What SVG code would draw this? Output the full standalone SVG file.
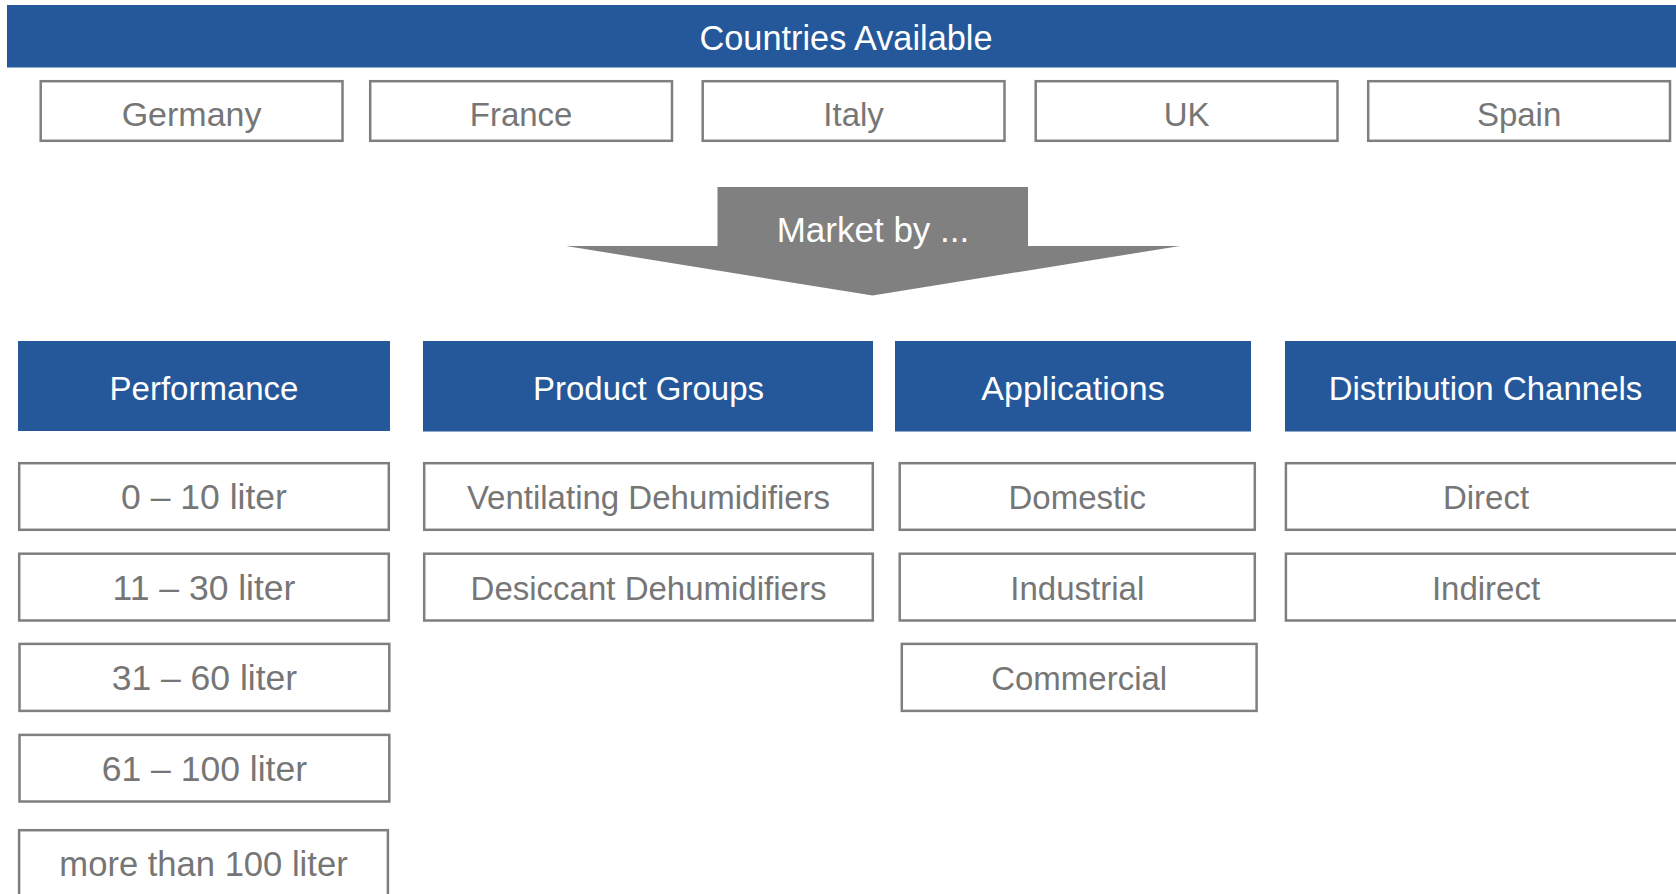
<svg xmlns="http://www.w3.org/2000/svg" width="1676" height="894" viewBox="0 0 1676 894">
<style>
  text { font-family: "Liberation Sans", Arial, sans-serif; font-size: 33px; text-anchor: middle; }
  .hdr { fill: #25589B; }
  .hdr-t { fill: #FFFFFF; }
  .box { fill: #FFFFFF; stroke: #7F7F7F; stroke-width: 2.5; }
  .box-t { fill: #767676; }
  .num { font-size: 35.5px; }
  .arrow { fill: #808080; }
</style>
<rect width="1676" height="894" fill="#FFFFFF"/>

<g id="countries-header">
  <rect class="hdr" x="7" y="5" width="1680" height="62.5"/>
  <text class="hdr-t" x="846" y="49.5" style="font-size:34.3px">Countries Available</text>
</g>

<g id="country-germany">
  <rect class="box" x="40.7" y="81.2" width="301.8" height="59.6"/>
  <text class="box-t" x="191.6" y="125.7" style="font-size:34px">Germany</text>
</g>
<g id="country-france">
  <rect class="box" x="370.2" y="81.2" width="301.8" height="59.6"/>
  <text class="box-t" x="521.1" y="125.7">France</text>
</g>
<g id="country-italy">
  <rect class="box" x="702.7" y="81.2" width="301.8" height="59.6"/>
  <text class="box-t" x="853.6" y="125.7">Italy</text>
</g>
<g id="country-uk">
  <rect class="box" x="1035.7" y="81.2" width="301.8" height="59.6"/>
  <text class="box-t" x="1186.6" y="125.7">UK</text>
</g>
<g id="country-spain">
  <rect class="box" x="1368.2" y="81.2" width="301.8" height="59.6"/>
  <text class="box-t" x="1519.1" y="125.7">Spain</text>
</g>

<g id="connectors">
  <path class="arrow" d="M717.5,187 L1028,187 L1028,246 L1180,246 L872.5,295.5 L566,246 L717.5,246 Z"/>
  <text class="hdr-t" x="873" y="241.7" style="font-size:35px">Market by ...</text>
</g>

<g id="hdr-performance">
  <rect class="hdr" x="18" y="341" width="372" height="90"/>
  <text class="hdr-t" x="204" y="400">Performance</text>
</g>
<g id="hdr-product-groups">
  <rect class="hdr" x="423" y="341" width="450" height="90.5"/>
  <text class="hdr-t" x="648.5" y="400">Product Groups</text>
</g>
<g id="hdr-applications">
  <rect class="hdr" x="895" y="341" width="356" height="90.5"/>
  <text class="hdr-t" x="1073" y="400" style="font-size:34px">Applications</text>
</g>
<g id="hdr-distribution">
  <rect class="hdr" x="1285" y="341" width="405" height="90.5"/>
  <text class="hdr-t" x="1485.5" y="400">Distribution Channels</text>
</g>

<g id="perf-0-10">
  <rect class="box" x="19.2" y="463.2" width="369.6" height="66.6"/>
  <text class="box-t num" x="204" y="509.3">0 – 10 liter</text>
</g>
<g id="perf-11-30">
  <rect class="box" x="19.2" y="553.7" width="369.6" height="66.8"/>
  <text class="box-t num" x="204" y="600">11 – 30 liter</text>
</g>
<g id="perf-31-60">
  <rect class="box" x="19.5" y="643.9" width="369.8" height="67"/>
  <text class="box-t num" x="204.4" y="690">31 – 60 liter</text>
</g>
<g id="perf-61-100">
  <rect class="box" x="19.5" y="734.9" width="369.8" height="66.6"/>
  <text class="box-t num" x="204.4" y="781">61 – 100 liter</text>
</g>
<g id="perf-100plus">
  <rect class="box" x="19.1" y="830.2" width="368.8" height="67"/>
  <text class="box-t" x="203.5" y="876" style="font-size:34.6px">more than 100 liter</text>
</g>

<g id="pg-ventilating">
  <rect class="box" x="424.2" y="463.2" width="448.6" height="66.6"/>
  <text class="box-t" x="648.5" y="509.3">Ventilating Dehumidifiers</text>
</g>
<g id="pg-desiccant">
  <rect class="box" x="424.2" y="553.7" width="448.6" height="66.8"/>
  <text class="box-t" x="648.5" y="600">Desiccant Dehumidifiers</text>
</g>

<g id="app-domestic">
  <rect class="box" x="899.7" y="463.2" width="355.1" height="66.6"/>
  <text class="box-t" x="1077.3" y="509.3">Domestic</text>
</g>
<g id="app-industrial">
  <rect class="box" x="899.7" y="553.7" width="355.1" height="66.8"/>
  <text class="box-t" x="1077.3" y="600">Industrial</text>
</g>
<g id="app-commercial">
  <rect class="box" x="901.8" y="643.9" width="354.8" height="67"/>
  <text class="box-t" x="1079.2" y="690">Commercial</text>
</g>

<g id="dc-direct">
  <rect class="box" x="1285.9" y="463.2" width="402" height="66.6"/>
  <text class="box-t" x="1486" y="509.3">Direct</text>
</g>
<g id="dc-indirect">
  <rect class="box" x="1285.9" y="553.7" width="402" height="66.8"/>
  <text class="box-t" x="1486" y="600">Indirect</text>
</g>
</svg>
